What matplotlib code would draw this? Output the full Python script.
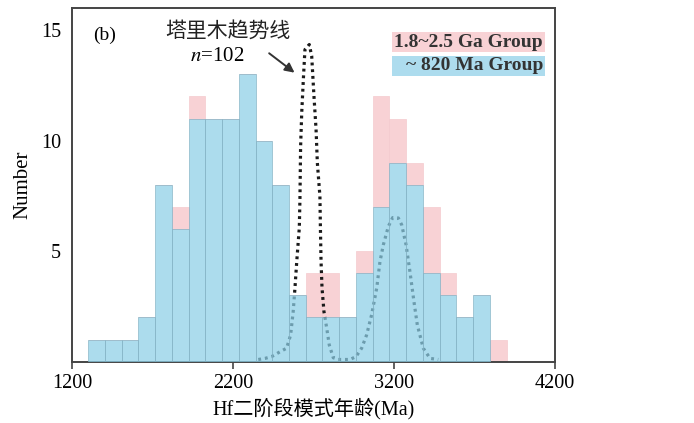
import numpy as np
import matplotlib
matplotlib.use("Agg")
import matplotlib.pyplot as plt
from matplotlib.patches import Rectangle

plt.rcParams["font.family"] = ["Liberation Serif", "Noto Sans CJK SC"]
plt.rcParams["mathtext.fontset"] = "stix"

# histogram bins (Ma)
bin_start = 1300
bin_width = 104
# counts per bin, ~820 Ma group (blue) and 1.8~2.5 Ga group (pink, stacked on top)
group_820 = [1, 1, 1, 2, 8, 6, 11, 11, 11, 13, 10, 8, 3, 2, 2, 2, 4, 7, 9, 8, 4, 3, 2, 3, 0]
group_1825 = [0, 0, 0, 0, 0, 1, 1, 0, 0, 0, 0, 0, 0, 2, 2, 0, 1, 5, 2, 1, 3, 1, 0, 0, 1]

# Tarim trend curve
trend_x = [2357, 2399, 2440, 2492, 2533, 2558, 2574, 2585, 2596, 2612, 2616, 2620,
           2627, 2637, 2647, 2674, 2689, 2703, 2716, 2724, 2740, 2743, 2747, 2753,
           2765, 2782, 2798, 2823, 2854, 2927, 2964, 2999, 3030, 3061, 3093, 3113,
           3134, 3165, 3192, 3227, 3248, 3275, 3299, 3324, 3345, 3382, 3424, 3475]
trend_y = [0.10, 0.15, 0.23, 0.45, 0.61, 1.21, 2.27, 3.34, 4.53, 6.06, 7.40, 9.74,
           11.27, 12.76, 14.12, 14.35, 13.82, 12.01, 10.51, 9.00, 7.48, 6.06, 4.53, 3.34,
           2.27, 1.53, 0.76, 0.18, 0.10, 0.10, 0.23, 0.61, 1.21, 2.12, 3.34, 4.53,
           5.29, 6.12, 6.52, 6.50, 6.19, 5.29, 4.08, 2.72, 1.66, 0.61, 0.15, 0.10]

xticks = [1200, 2200, 3200, 4200]
yticks = [5, 10, 15]

blue = "#8CCFE7"
pink = "#F8D2D5"
spine_col = "#444444"

fig = plt.figure(figsize=(6.94, 4.23), dpi=100)
ax = fig.add_axes([0.1037, 0.1449, 0.696, 0.8361])

lefts = bin_start + bin_width * np.arange(len(group_820))
blue_vals = np.array(group_820)
pink_vals = np.array(group_1825)

ax.plot(trend_x, trend_y, color="#1a1a1a", lw=2.3, linestyle=(0, (0.9, 1.2)),
        zorder=2)
ax.bar(lefts, pink_vals, width=bin_width, bottom=blue_vals, align="edge",
       color=pink, edgecolor="#F4CACE", lw=0.5, zorder=1)
ax.bar(lefts, blue_vals, width=bin_width, align="edge", color=blue, alpha=0.72,
       edgecolor="#7FAEC0", lw=0.6, zorder=3)

ax.set_xlim(1200, 4200)
ax.set_ylim(0, 16)
ax.set_xticks(xticks)
ax.set_yticks(yticks)
ax.tick_params(axis="x", direction="out", length=5, width=1.2, color=spine_col,
               labelsize=14.5, pad=4)
ax.tick_params(axis="y", direction="in", length=0, labelsize=14.5, pad=8)
for s in ax.spines.values():
    s.set_color(spine_col)
    s.set_linewidth(1.4)

ax.set_xlabel("Hf二阶段模式年龄(Ma)", fontsize=14.5, labelpad=3)
ax.set_ylabel("Number", fontsize=15, labelpad=6)

ax.text(0.068, 0.924, "(b)", transform=ax.transAxes, fontsize=14,
        ha="center", va="center")
ax.text(2169, 14.96, "塔里木趋势线", fontsize=15, ha="center", va="center",
        family=["Noto Sans CJK SC", "DejaVu Sans"], color="#222222")
ax.text(2104, 13.8, "$n$=102", fontsize=15, ha="center", va="center")
ax.annotate("", xy=(2596, 13.0), xytext=(2411, 14.03),
            arrowprops=dict(arrowstyle="-|>", color="#333333", lw=1.4,
                            mutation_scale=14))

# group labels with coloured boxes
ax.add_patch(Rectangle((0.662, 0.875), 0.317, 0.056, transform=ax.transAxes,
                       facecolor=pink, edgecolor="none", zorder=4))
ax.add_patch(Rectangle((0.662, 0.808), 0.317, 0.057, transform=ax.transAxes,
                       facecolor="#ADDCEE", edgecolor="none", zorder=4))
ax.text(0.975, 0.903, "1.8~2.5 Ga Group", transform=ax.transAxes, fontsize=14,
        fontweight="bold", ha="right", va="center", color="#333333", zorder=5)
ax.text(0.975, 0.8365, "~ 820 Ma Group", transform=ax.transAxes, fontsize=14,
        fontweight="bold", ha="right", va="center", color="#333333", zorder=5)

fig.savefig("out.png", dpi=100)
